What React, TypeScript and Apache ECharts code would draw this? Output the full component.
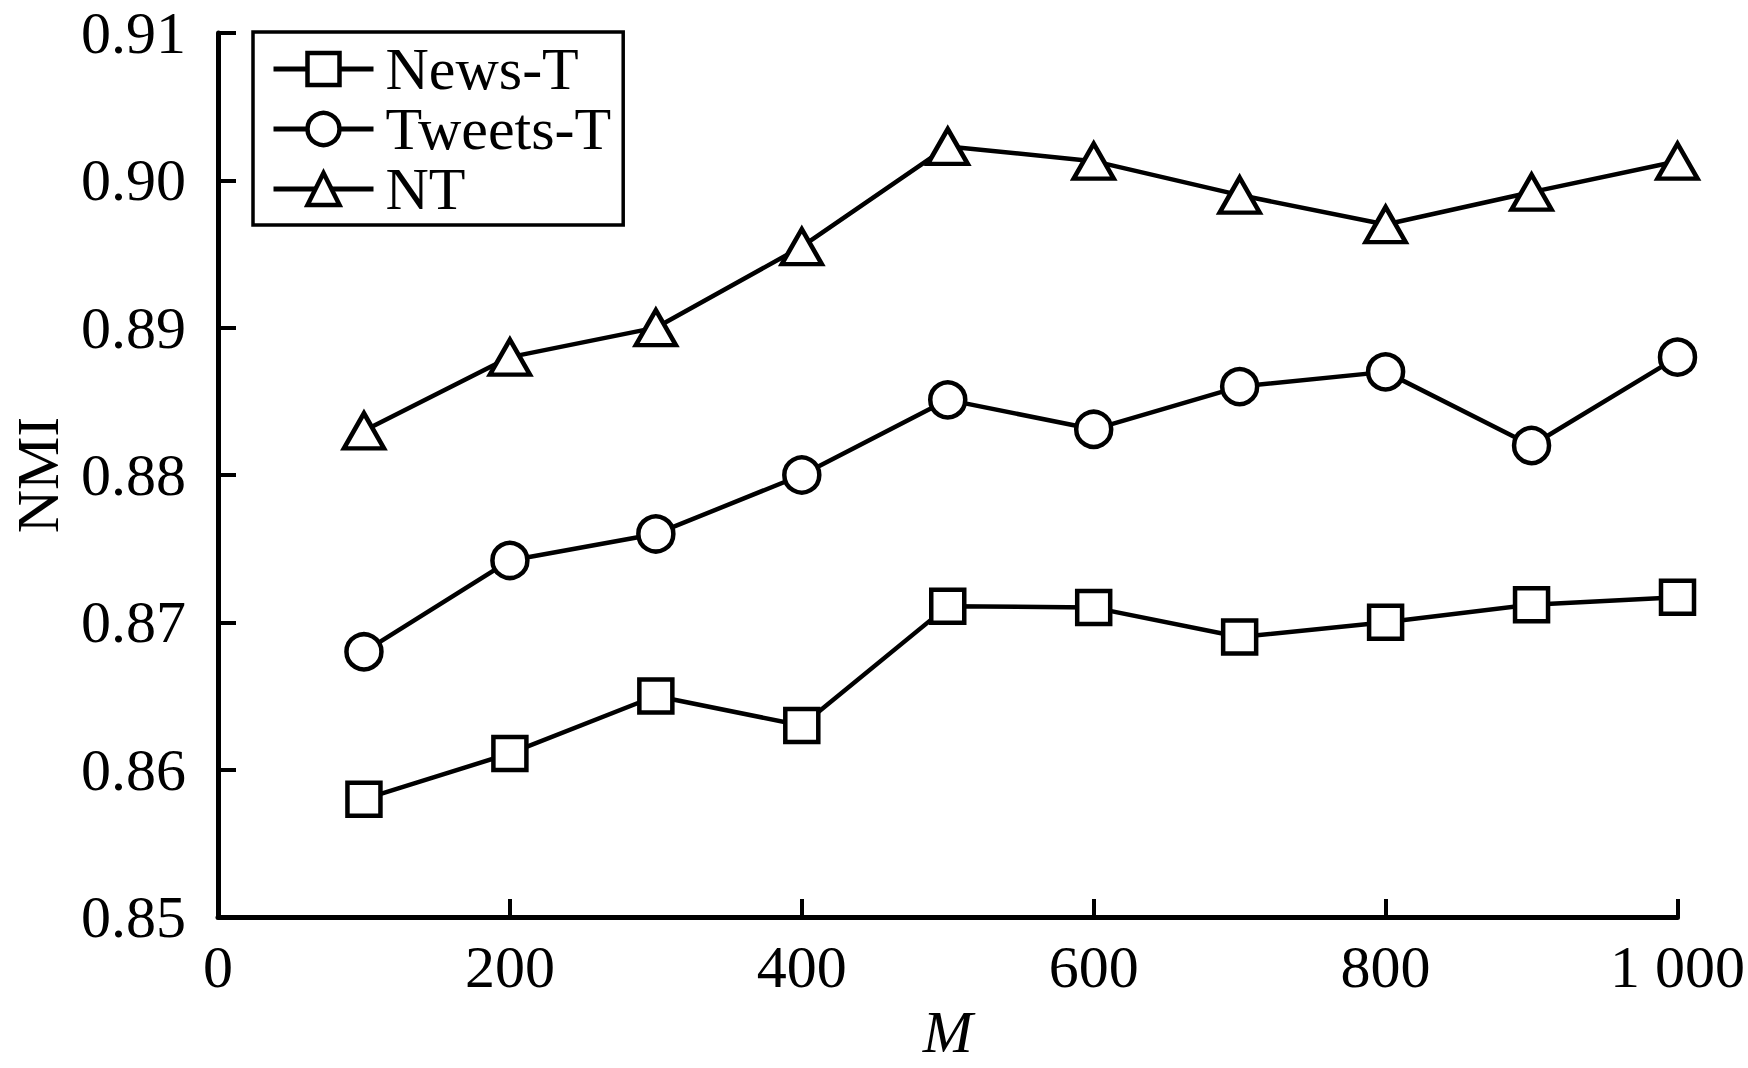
import React, { useEffect, useRef } from "react";
import * as echarts from "echarts";

const mValues = [100, 200, 300, 400, 500, 600, 700, 800, 900, 1000];
const newsT = [0.858, 0.8611, 0.865, 0.863, 0.8711, 0.871, 0.869, 0.870, 0.8712, 0.8717];
const tweetsT = [0.868, 0.8742, 0.876, 0.880, 0.8851, 0.8831, 0.886, 0.887, 0.882, 0.888];
const nt = [0.883, 0.888, 0.890, 0.8955, 0.9023, 0.9013, 0.899, 0.897, 0.8992, 0.9013];
const seriesNames = ["News-T", "Tweets-T", "NT"];
const yTicks = { min: 0.85, max: 0.91, interval: 0.01 };
const xTicks = { min: 0, max: 1000, interval: 200 };

const FONT = "Liberation Serif";

export default function App() {
  const ref = useRef<HTMLDivElement>(null);
  useEffect(() => {
    document.body.style.margin = "0";
    if (!ref.current) return;
    const chart = echarts.init(ref.current, null, { renderer: "svg" });
    const mk = (vals: number[]) => mValues.map((m, i) => [m, vals[i]]);
    const lineStyle = { color: "#000", width: 4.5 };
    const itemStyle = { color: "#fff", borderColor: "#000", borderWidth: 4.5 };
    chart.setOption({
      animation: false,
      backgroundColor: "#fff",
      grid: { left: 211, right: 59, top: 33, bottom: 151, containLabel: false },
      legend: {
        orient: "vertical",
        left: 253,
        top: 32,
        padding: [7, 12, 6, 18],
        borderColor: "#000",
        borderWidth: 3.5,
        itemWidth: 100,
        itemHeight: 40,
        itemGap: 0,
        lineStyle: { width: 5, color: "#000" },
        itemStyle: { color: "#fff", borderColor: "#000", borderWidth: 4.5 },
        textStyle: { fontFamily: FONT, fontSize: 60, color: "#000", lineHeight: 52, padding: [0, 0, 0, 7] },
        data: seriesNames,
      },
      xAxis: {
        type: "value",
        min: xTicks.min,
        max: xTicks.max,
        interval: xTicks.interval,
        name: "M",
        nameLocation: "middle",
        nameGap: 84,
        nameTextStyle: { fontFamily: FONT, fontSize: 60, fontStyle: "italic", color: "#000" },
        axisLine: { show: true, lineStyle: { color: "#000", width: 5 } },
        axisTick: { show: true, inside: true, length: 18, lineStyle: { color: "#000", width: 4 } },
        axisLabel: {
          fontFamily: FONT,
          fontSize: 60,
          color: "#000",
          margin: 20,
          formatter: (v: number) => (v >= 1000 ? "1 000" : String(v)),
        },
        splitLine: { show: false },
      },
      yAxis: {
        type: "value",
        min: yTicks.min,
        max: yTicks.max,
        interval: yTicks.interval,
        name: "NMI",
        nameLocation: "middle",
        nameGap: 150,
        nameTextStyle: { fontFamily: FONT, fontSize: 60, color: "#000" },
        axisLine: { show: true, lineStyle: { color: "#000", width: 5 } },
        axisTick: { show: true, inside: true, length: 18, lineStyle: { color: "#000", width: 4 } },
        axisLabel: {
          fontFamily: FONT,
          fontSize: 60,
          color: "#000",
          margin: 32,
          formatter: (v: number) => v.toFixed(2),
        },
        splitLine: { show: false },
      },
      series: [
        {
          name: seriesNames[0],
          type: "line",
          data: mk(newsT),
          symbol: "rect",
          symbolSize: 33,
          lineStyle,
          itemStyle,
        },
        {
          name: seriesNames[1],
          type: "line",
          data: mk(tweetsT),
          symbol: "circle",
          symbolSize: 35,
          lineStyle,
          itemStyle,
        },
        {
          name: seriesNames[2],
          type: "line",
          data: mk(nt),
          symbol: "triangle",
          symbolSize: [40, 35],
          lineStyle,
          itemStyle,
        },
      ],
    });
    return () => chart.dispose();
  }, []);
  return <div ref={ref} style={{ width: 1748, height: 1068 }} />;
}
